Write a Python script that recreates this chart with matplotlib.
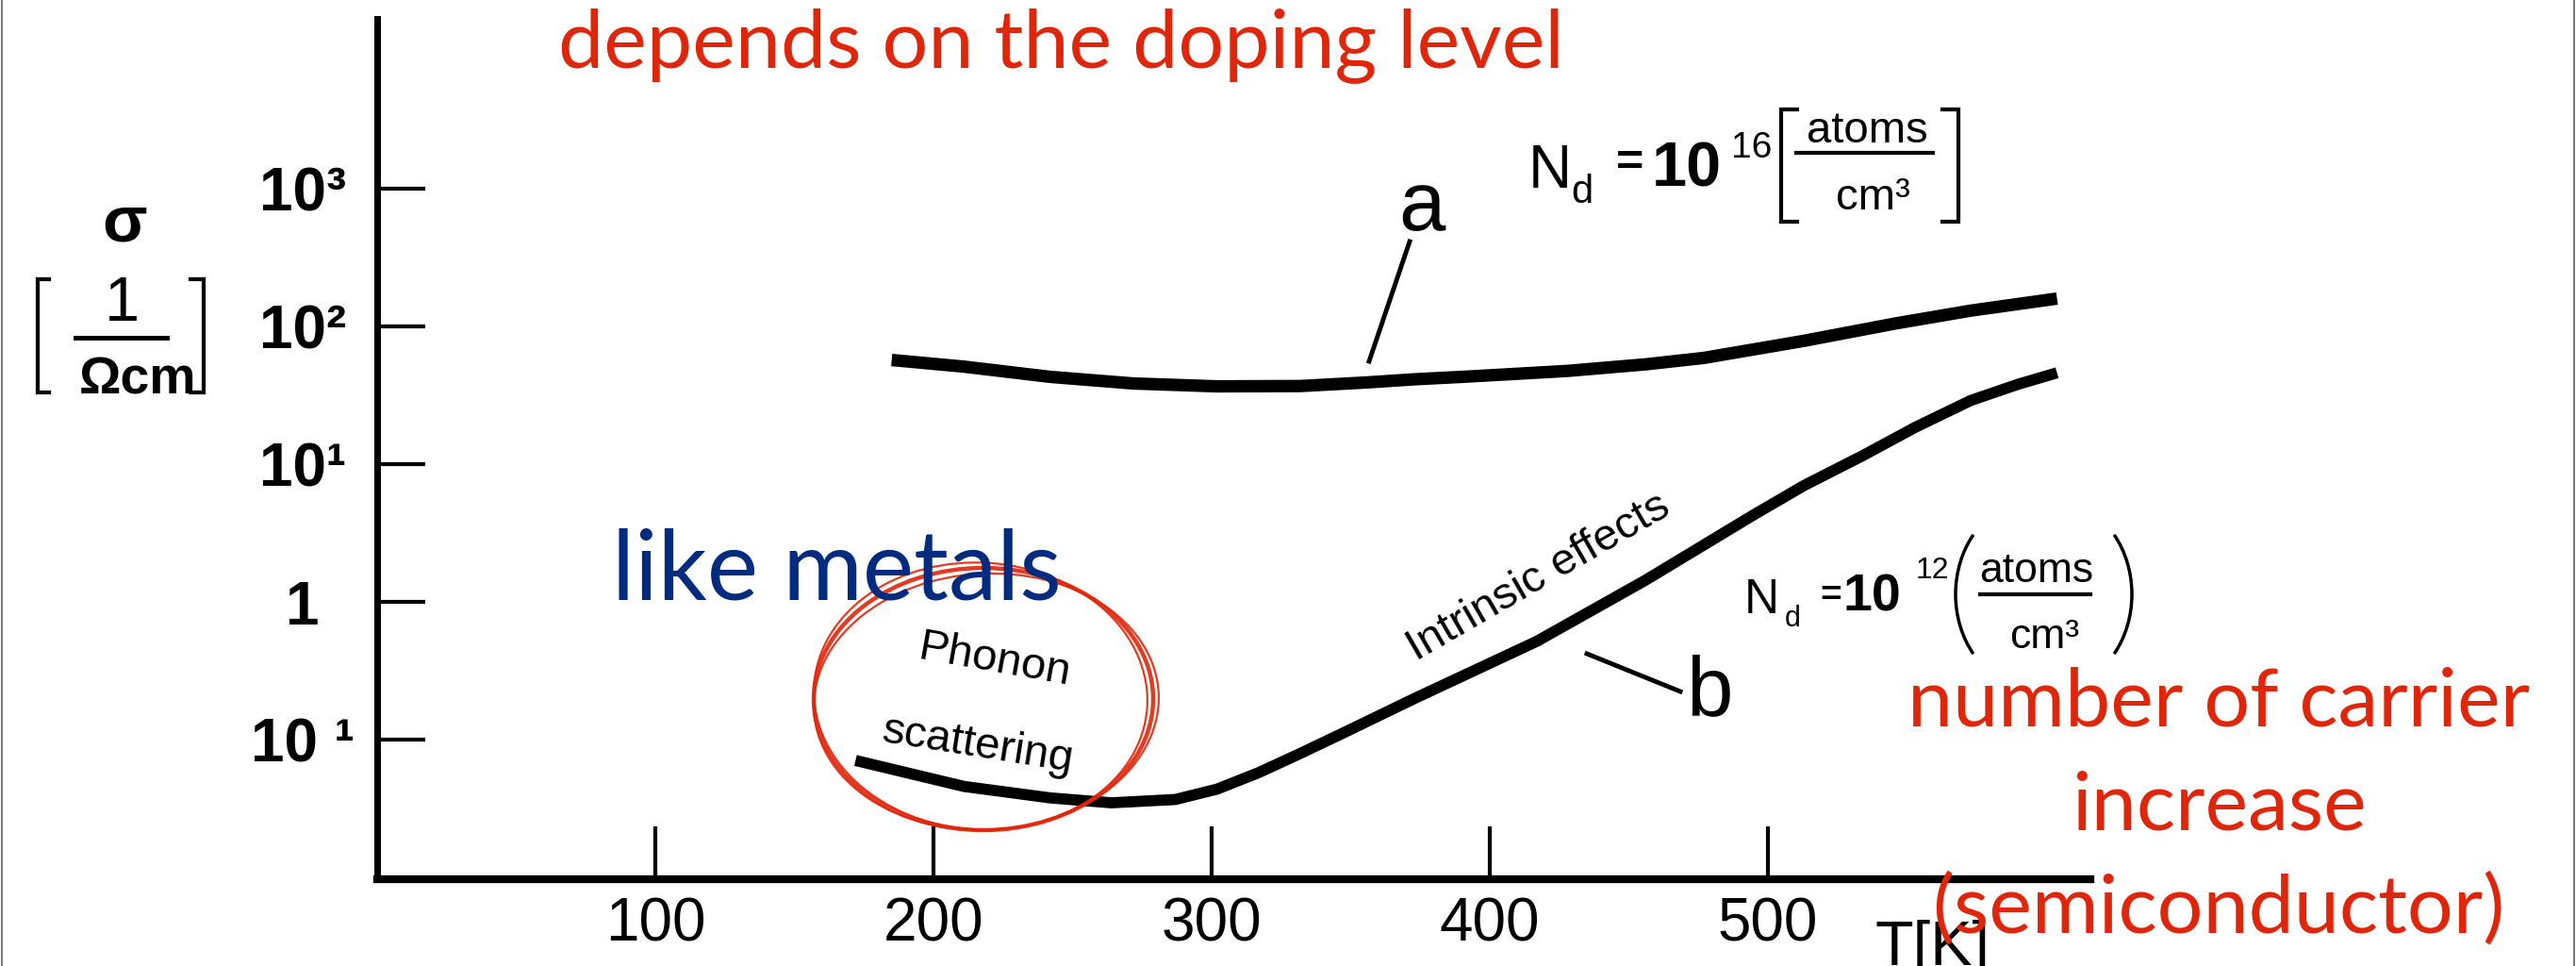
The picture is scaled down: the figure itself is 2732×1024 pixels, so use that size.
import numpy as np
import matplotlib.pyplot as plt
from matplotlib.patches import Ellipse, Arc
from matplotlib.ticker import NullLocator

plt.rcParams['font.family'] = ['Liberation Sans', 'DejaVu Sans']

# conductivity vs temperature, T in K, sigma in 1/(Ohm cm)
# curve a : Nd = 1e16 atoms/cm3
T_a = [185, 211, 242, 272, 302, 332, 356, 373, 392, 428, 456, 477, 513, 546, 573, 604]
sigma_a = [57, 51, 43, 38.5, 36.7, 36.9, 39.2, 41.3, 43.2, 47.5, 53, 59, 78.5, 105, 130, 159]

# curve b : Nd = 1e12 atoms/cm3
T_b = [172, 211, 242, 264, 287, 302, 317, 332, 348, 373, 417, 456, 495, 513, 534, 553, 573, 590, 604]
sigma_b = [0.071, 0.046, 0.038, 0.035, 0.037, 0.044, 0.058, 0.080, 0.114, 0.20, 0.52, 1.44,
           4.3, 7.0, 11.5, 18.5, 29, 38, 46]

x_ticks = [100, 200, 300, 400, 500]
y_ticks = [1e3, 1e2, 1e1, 1, 1e-1]
y_tick_labels = ['10³', '10²', '10¹', '1', '10 ¹']

W, H = 2732, 1024
RED = '#E0260A'
NAVY = '#002B7F'

fig = plt.figure(figsize=(W / 100, H / 100), dpi=100)
fig.patch.set_facecolor('white')

# main plot, axes box in pixels: x 400..2217, y 20..932 (from top)
ax = fig.add_axes([400 / W, (H - 932) / H, (2217 - 400) / W, (932 - 20) / H])
ax.set_yscale('log')
ax.plot(T_a, sigma_a, color='black', lw=9.5, solid_capstyle='butt', solid_joinstyle='round')
ax.plot(T_b, sigma_b, color='black', lw=8.5, solid_capstyle='butt', solid_joinstyle='round')
ax.set_xlim(0, 616)
ax.set_ylim(10 ** -2.01, 10 ** 4.23)

for side in ['top', 'right']:
    ax.spines[side].set_visible(False)
ax.spines['left'].set_linewidth(5)
ax.spines['bottom'].set_linewidth(6)

ax.set_xticks(x_ticks, labels=[str(t) for t in x_ticks])
ax.set_yticks(y_ticks, labels=y_tick_labels)
ax.yaxis.set_minor_locator(NullLocator())
ax.xaxis.set_minor_locator(NullLocator())
ax.tick_params(axis='x', direction='in', length=40, width=3, pad=13, labelsize=46)
ax.tick_params(axis='y', direction='in', length=37, width=3, pad=57, labelsize=46)
for lbl in ax.get_yticklabels():
    lbl.set_horizontalalignment('center')
    lbl.set_fontweight('bold')

# overlay in pixel units (y down) for labels and notes
over = fig.add_axes([0, 0, 1, 1], zorder=3)
over.set_xlim(0, W)
over.set_ylim(H, 0)
over.axis('off')
over.patch.set_alpha(0)


def bracket(x, y0, y1, serif):
    over.plot([x + serif, x, x, x + serif], [y0, y0, y1, y1], color='black', lw=3,
              solid_joinstyle='miter')


# y axis label: sigma [1 / Ohm cm]
over.text(132, 237, 'σ', fontsize=50, fontweight='bold', ha='center', va='center')
over.text(129, 340, '1', fontsize=48, ha='center', va='baseline')
over.plot([80, 177], [358, 358], color='black', lw=3.5)
over.text(146, 418, 'Ωcm', fontsize=40, fontweight='bold', ha='center', va='baseline')
bracket(40, 296, 416, 12)
bracket(216, 296, 416, -14)

# x axis label
over.text(1988, 1023, 'T[K]', fontsize=48, ha='left', va='baseline')

# curve labels
over.text(1508, 244, 'a', fontsize=64, ha='center', va='baseline')
over.plot([1495, 1452], [256, 383], color='black', lw=3.5)
over.text(1813, 758, 'b', fontsize=64, ha='center', va='baseline')
over.plot([1683, 1782], [693, 733], color='black', lw=3.5)

# Nd = 10^16 [atoms / cm^3]
over.text(1621, 199, 'N', fontsize=46, va='baseline')
over.text(1666, 215, 'd', fontsize=30, va='baseline')
over.text(1714, 174, '=', fontsize=36, fontweight='bold', va='center')
over.text(1752, 197, '10', fontsize=48, fontweight='bold', va='baseline')
over.text(1836, 167, '16', fontsize=28, va='baseline')
bracket(1889, 116, 235, 17)
over.text(1980, 151, 'atoms', fontsize=34, ha='center', va='baseline')
over.plot([1905, 2050], [162, 162], color='black', lw=3)
over.text(1986, 222, 'cm³', fontsize=34, ha='center', va='baseline')
bracket(2077, 116, 235, -17)

# Nd = 10^12 (atoms / cm^3)
over.text(1850, 650, 'N', fontsize=37, va='baseline')
over.text(1893, 664, 'd', fontsize=22, va='baseline')
over.text(1930, 632, '=', fontsize=28, fontweight='bold', va='center')
over.text(1955, 648, '10', fontsize=40, fontweight='bold', va='baseline')
over.text(2032, 613, '12', fontsize=23, va='baseline')
over.add_patch(Arc((2156, 630), 164, 198, theta1=135, theta2=225, color='black', lw=2.5))
over.add_patch(Arc((2179, 630), 164, 198, theta1=-45, theta2=45, color='black', lw=2.5))
over.text(2160, 617, 'atoms', fontsize=32, ha='center', va='baseline')
over.plot([2100, 2217], [630, 630], color='black', lw=3)
over.text(2168, 687, 'cm³', fontsize=32, ha='center', va='baseline')

# regime notes on the curves
over.text(1054, 700, 'Phonon', fontsize=34, ha='center', va='center',
          rotation=-10, rotation_mode='anchor')
over.text(1037, 790, 'scattering', fontsize=34, ha='center', va='center',
          rotation=-9, rotation_mode='anchor')
over.text(1632, 612, 'Intrinsic effects', fontsize=34, ha='center', va='center',
          rotation=30, rotation_mode='anchor')

# hand drawn red ring around the phonon region
for dx, dy, w, h, ang, lw in [(0, 0, 360, 278, 0, 3.2), (-3, -3, 354, 283, 4, 1.6),
                              (3, 3, 366, 272, -3, 1.6)]:
    over.add_patch(Ellipse((1043 + dx, 741 + dy), w, h, angle=ang, fill=False,
                           edgecolor=RED, lw=lw, alpha=0.9))

# slide notes
over.text(592, 71, 'depends on the doping level', fontsize=62, family='Lato',
          color=RED, va='baseline')
over.text(649, 635, 'like metals', fontsize=74, family='Lato', color=NAVY, va='baseline')
for txt, base in [('number of carrier', 769), ('increase', 880), ('(semiconductor)', 988)]:
    over.text(2353, base, txt, fontsize=62, family='Lato', color=RED, ha='center',
              va='baseline')

# slide edges
over.plot([1.5, 1.5], [0, H], color='#7a7a7a', lw=1.5)
over.plot([W - 2.5, W - 2.5], [0, H], color='#7a7a7a', lw=1.5)

fig.savefig('out.png', dpi=100)
